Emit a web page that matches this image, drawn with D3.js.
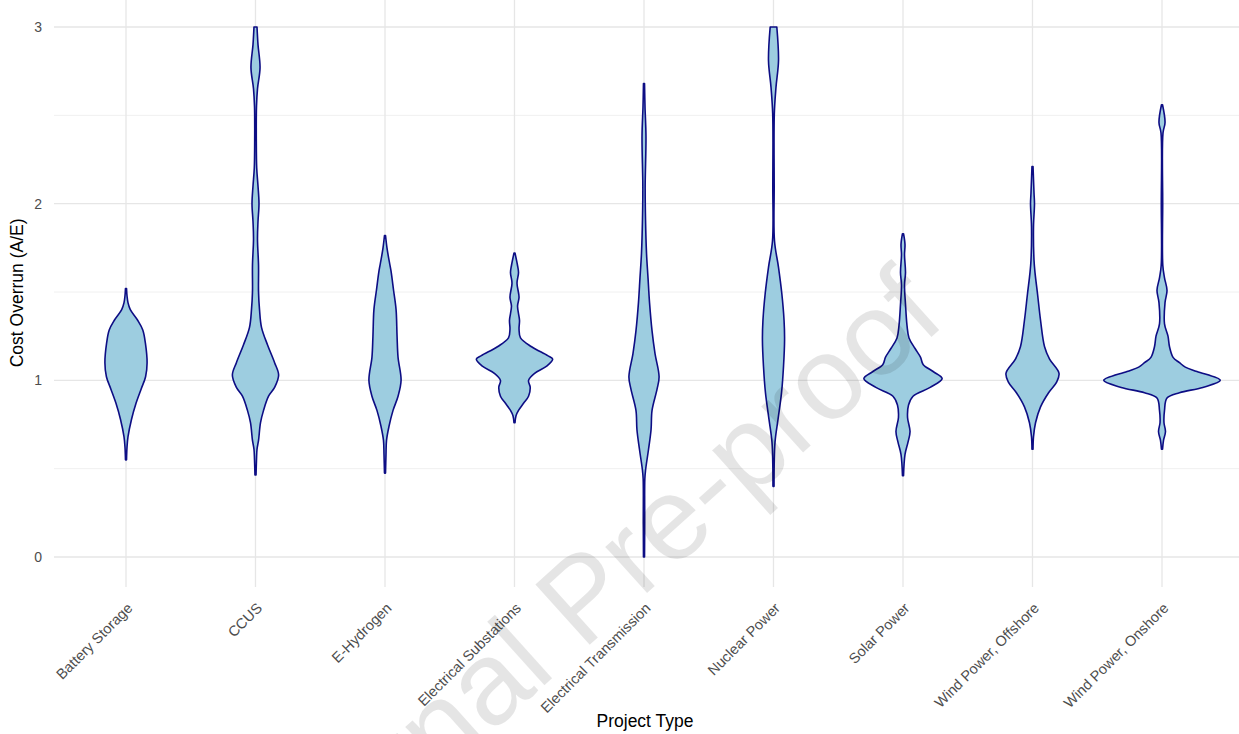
<!DOCTYPE html>
<html>
<head>
<meta charset="utf-8">
<script src="https://cdn.jsdelivr.net/npm/d3@7"></script>
<style>
  body { margin: 0; background: #fff; }
  svg { display: block; font-family: 'Liberation Sans', Arial, Helvetica, sans-serif; }
</style>
</head>
<body>
<svg id="chart"></svg>
<script>
const categories = [
  'Battery Storage', 'CCUS', 'E-Hydrogen', 'Electrical Substations',
  'Electrical Transmission', 'Nuclear Power', 'Solar Power',
  'Wind Power, Offshore', 'Wind Power, Onshore'
];
const yTicks = [0, 1, 2, 3];
const yMinor = [0.5, 1.5, 2.5];

// violin outlines: [cost overrun, relative half-width]
const batteryStorage = [[0.55, 0.009], [0.62, 0.017], [0.68, 0.034], [0.78, 0.095], [0.87, 0.172], [0.95, 0.259], [1.02, 0.336], [1.10, 0.362], [1.21, 0.333], [1.285, 0.288], [1.34, 0.2], [1.40, 0.074], [1.44, 0.034], [1.48, 0.017], [1.52, 0.009]];
const ccus = [[0.464, 0.009], [0.55, 0.017], [0.61, 0.026], [0.66, 0.052], [0.76, 0.086], [0.83, 0.138], [0.91, 0.224], [0.96, 0.328], [1.03, 0.397], [1.10, 0.328], [1.20, 0.207], [1.30, 0.103], [1.40, 0.069], [1.50, 0.052], [1.65, 0.052], [1.80, 0.034], [1.90, 0.043], [2.00, 0.06], [2.10, 0.043], [2.20, 0.021], [2.35, 0.014], [2.55, 0.017], [2.65, 0.034], [2.77, 0.078], [2.90, 0.043], [3.00, 0.026]];
const eHydrogen = [[0.475, 0.009], [0.58, 0.017], [0.66, 0.026], [0.74, 0.069], [0.83, 0.138], [0.91, 0.224], [1.00, 0.276], [1.13, 0.224], [1.25, 0.207], [1.40, 0.19], [1.51, 0.147], [1.62, 0.103], [1.68, 0.069], [1.75, 0.034], [1.82, 0.009]];
const substations = [[0.76, 0.009], [0.80, 0.026], [0.83, 0.069], [0.87, 0.155], [0.91, 0.241], [0.96, 0.27], [1.00, 0.241], [1.04, 0.345], [1.08, 0.552], [1.12, 0.655], [1.14, 0.569], [1.19, 0.293], [1.24, 0.103], [1.29, 0.078], [1.34, 0.086], [1.42, 0.052], [1.47, 0.078], [1.55, 0.043], [1.61, 0.069], [1.65, 0.052], [1.72, 0.009]];
const transmission = [[0.00, 0.009], [0.20, 0.012], [0.44, 0.014], [0.49, 0.026], [0.61, 0.078], [0.72, 0.121], [0.83, 0.138], [0.95, 0.224], [1.02, 0.259], [1.15, 0.19], [1.28, 0.138], [1.44, 0.095], [1.58, 0.069], [1.72, 0.043], [1.91, 0.026], [2.10, 0.02], [2.38, 0.034], [2.55, 0.017], [2.68, 0.009]];
const nuclear = [[0.40, 0.009], [0.65, 0.026], [0.78, 0.078], [0.93, 0.138], [1.08, 0.172], [1.23, 0.19], [1.34, 0.181], [1.49, 0.143], [1.64, 0.086], [1.79, 0.017], [2.10, 0.012], [2.51, 0.014], [2.66, 0.043], [2.81, 0.086], [3.00, 0.057]];
const solar = [[0.46, 0.009], [0.58, 0.034], [0.65, 0.086], [0.71, 0.121], [0.79, 0.078], [0.86, 0.095], [0.91, 0.172], [0.96, 0.466], [1.01, 0.672], [1.05, 0.517], [1.09, 0.345], [1.13, 0.302], [1.18, 0.207], [1.24, 0.103], [1.31, 0.069], [1.43, 0.043], [1.54, 0.026], [1.61, 0.043], [1.71, 0.026], [1.77, 0.034], [1.83, 0.009]];
const windOffshore = [[0.61, 0.009], [0.68, 0.017], [0.76, 0.052], [0.85, 0.138], [0.93, 0.276], [0.99, 0.414], [1.04, 0.455], [1.12, 0.293], [1.19, 0.207], [1.34, 0.138], [1.49, 0.086], [1.61, 0.043], [1.68, 0.026], [1.87, 0.017], [2.00, 0.034], [2.06, 0.026], [2.21, 0.009]];
const windOnshore = [[0.61, 0.009], [0.66, 0.026], [0.71, 0.06], [0.76, 0.034], [0.83, 0.043], [0.90, 0.086], [0.93, 0.3], [0.96, 0.7], [1.00, 1.0], [1.05, 0.6], [1.075, 0.4], [1.10, 0.3], [1.13, 0.19], [1.19, 0.129], [1.25, 0.103], [1.32, 0.043], [1.44, 0.052], [1.51, 0.086], [1.58, 0.043], [1.65, 0.014], [2.00, 0.012], [2.40, 0.017], [2.46, 0.052], [2.56, 0.009]];

const profiles = [batteryStorage, ccus, eHydrogen, substations, transmission, nuclear, solar, windOffshore, windOnshore];

let width = 1239;
let height = 734;
let panelLeft = 54;

const svg = d3.select('#chart').attr('width', width).attr('height', height);

const x = d3.scalePoint().domain(categories).range([126, 1162]);
const y = d3.scaleLinear().domain([0, 3]).range([557, 27]);
const w = d3.scaleLinear().domain([0, 1]).range([0, x.step() * 0.45]);

// grid
const grid = svg.append('g').attr('fill', 'none');
grid.selectAll('line.minor')
  .data(yMinor)
  .join('line')
  .attr('class', 'minor')
  .attr('x1', panelLeft).attr('x2', width)
  .attr('y1', (d) => y(d)).attr('y2', (d) => y(d))
  .attr('stroke', '#f0f0f0')
  .attr('stroke-width', 1);
grid.selectAll('line.major')
  .data(yTicks)
  .join('line')
  .attr('class', 'major')
  .attr('x1', panelLeft).attr('x2', width)
  .attr('y1', (d) => y(d)).attr('y2', (d) => y(d))
  .attr('stroke', '#e6e6e6')
  .attr('stroke-width', 1.3);
grid.selectAll('line.vert')
  .data(categories)
  .join('line')
  .attr('class', 'vert')
  .attr('x1', (d) => x(d)).attr('x2', (d) => x(d))
  .attr('y1', y(3.16)).attr('y2', y(-0.17))
  .attr('stroke', '#e6e6e6')
  .attr('stroke-width', 1.3);

// violins
const violins = svg.append('g');
categories.forEach((cat, i) => {
  const cx = x(cat);
  const area = d3.area()
    .y((d) => y(d[0]))
    .x0((d) => cx - w(d[1]))
    .x1((d) => cx + w(d[1]))
    .curve(d3.curveCatmullRom);
  violins.append('path')
    .datum(profiles[i])
    .attr('d', area)
    .attr('fill', '#9dcde0')
    .attr('stroke', '#0d0d84')
    .attr('stroke-width', 1.6)
    .attr('stroke-linejoin', 'round');
});

// axes
const yAxis = svg.append('g')
  .attr('transform', `translate(${panelLeft},0)`)
  .call(d3.axisLeft(y).tickValues(yTicks).tickFormat(d3.format('d')).tickSize(0).tickPadding(12));
yAxis.select('.domain').remove();
yAxis.selectAll('text')
  .attr('font-size', 14)
  .attr('font-family', null)
  .attr('fill', '#4d4d4d');

const xAxis = svg.append('g')
  .attr('transform', 'translate(0,585)')
  .call(d3.axisBottom(x).tickSize(0));
xAxis.select('.domain').remove();
xAxis.selectAll('text')
  .attr('font-size', 14.5)
  .attr('font-family', null)
  .attr('fill', '#4d4d4d')
  .attr('x', 0)
  .attr('y', 0)
  .attr('dy', 0)
  .attr('text-anchor', 'end')
  .attr('transform', 'translate(7,24) rotate(-45)');

svg.append('text')
  .attr('transform', `translate(23,${(y(3.16) + y(-0.17)) / 2}) rotate(-90)`)
  .attr('text-anchor', 'middle')
  .attr('font-size', 17.5)
  .attr('fill', '#000')
  .text('Cost Overrun (A/E)');

svg.append('text')
  .attr('x', 645)
  .attr('y', 727)
  .attr('text-anchor', 'middle')
  .attr('font-size', 17.5)
  .attr('fill', '#000')
  .text('Project Type');

// watermark
svg.append('text')
  .attr('transform', 'translate(948,322) rotate(-42)')
  .attr('text-anchor', 'end')
  .attr('font-size', 118)
  .attr('fill', '#000')
  .attr('fill-opacity', 0.1)
  .text('Journal Pre-proof');
</script>
</body>
</html>
